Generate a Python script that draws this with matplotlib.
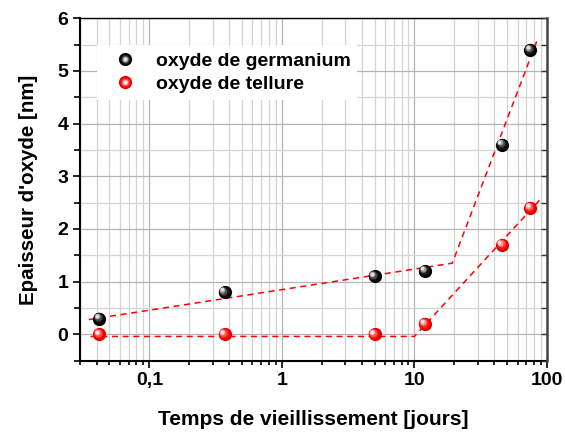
import numpy as np
import matplotlib
matplotlib.use("Agg")
from matplotlib import pyplot as plt
from matplotlib import transforms
from matplotlib.ticker import FixedLocator, FuncFormatter, MultipleLocator, NullFormatter
from matplotlib.lines import Line2D
from matplotlib.legend_handler import HandlerTuple

plt.rcParams['font.family'] = ['Liberation Sans', 'DejaVu Sans']
plt.rcParams['font.weight'] = 'bold'

#%% Données
temps = [0.042, 0.37, 5, 12, 46, 75]          # jours
ep_germanium = [0.3, 0.8, 1.1, 1.2, 3.6, 5.4]  # nm
ep_tellure = [0.0, 0.0, 0.0, 0.2, 1.7, 2.4]    # nm

# droites d'ajustement (sommets des segments)
fit_ge_x = [0.035, 19.3, 86]
fit_ge_y = [0.28, 1.35, 5.64]
fit_te_x = [0.036, 10, 92]
fit_te_y = [-0.04, -0.04, 2.6]

labels = ["oxyde de germanium", "oxyde de tellure"]

noir = ['#000000', '#050505', '#1c1c1c', '#4a4a4a', '#9a9a9a', '#e0e0e0']
rouge = ['#e00000', '#f20000', '#ff1a1a', '#ff5050', '#ff9c9c', '#ffe8e8']


#%% Billes ombrées
def spheres(ax, x, y, couleurs, taille=9.5, z=5):
    n = len(couleurs)
    handles = []
    for i, c in enumerate(couleurs):
        s = taille * (1 - 0.85 * i / n)
        d = 2.4 * i / n
        tr = transforms.offset_copy(ax.transData, fig=ax.figure, x=-d, y=d, units='points')
        ax.plot(x, y, 'o', ms=s, color=c, mew=0, transform=tr, zorder=z + i, clip_on=False)
        handles.append(Line2D([], [], ls='none', marker='o', ms=s, color=c, mew=0))
    return tuple(handles)


#%% Figure
fig = plt.figure(figsize=(5.65, 4.33), dpi=100)
ax = fig.add_axes([0.1416, 0.167, 0.8265, 0.791])

ax.set_xscale('log')
ax.set_xlim(0.03, 100)
ax.set_ylim(-0.5, 6)

ax.plot(fit_ge_x, fit_ge_y, '--', color='red', lw=1.1, dashes=(4, 3), zorder=4)
ax.plot(fit_te_x, fit_te_y, '--', color='red', lw=1.1, dashes=(4, 3), zorder=4)

h_ge = spheres(ax, temps, ep_germanium, noir)
h_te = spheres(ax, temps, ep_tellure, rouge)

# grilles
ax.yaxis.set_major_locator(MultipleLocator(1))
ax.yaxis.set_minor_locator(MultipleLocator(0.5))
ax.xaxis.set_major_locator(FixedLocator([0.1, 1, 10, 100]))
mins = [m * 10.0 ** e for e in range(-2, 2) for m in range(2, 10)]
ax.xaxis.set_minor_locator(FixedLocator(mins))
ax.xaxis.set_major_formatter(FuncFormatter(lambda v, p: ('%g' % v).replace('.', ',')))
ax.xaxis.set_minor_formatter(NullFormatter())
ax.grid(True, which='major', color='#b4b4b4', lw=0.9)
ax.grid(True, which='minor', color='#d4d4d4', lw=0.9)
ax.set_axisbelow(True)

ax.tick_params(which='both', direction='out', top=False, right=False, labelsize=14, width=1.2)
ax.tick_params(which='major', length=5)
ax.tick_params(which='minor', length=3)
ax.tick_params(axis='y', which='minor', length=4)

# graduations intérieures à droite
ax2 = ax.twinx()
ax2.set_ylim(ax.get_ylim())
ax2.yaxis.set_major_locator(MultipleLocator(0.5))
ax2.tick_params(direction='in', length=4, width=1.0, labelright=False, color='#333333')
ax2.spines['right'].set_color('#444444')
ax2.spines['right'].set_linewidth(1.8)
for s in ['left', 'bottom', 'top']:
    ax2.spines[s].set_visible(False)

for s in ['left', 'bottom']:
    ax.spines[s].set_linewidth(1.5)
ax.spines['top'].set_linewidth(1.0)
ax.spines['right'].set_visible(False)

ax.set_xlabel("Temps de vieillissement [jours]", fontsize=15, fontweight='bold', labelpad=15)
ax.set_ylabel("Epaisseur d'oxyde [nm]", fontsize=14.8, fontweight='bold', labelpad=14)

leg = ax.legend([h_ge, h_te], labels, handler_map={tuple: HandlerTuple(ndivide=1, pad=0)},
                loc='upper left', bbox_to_anchor=(0.037, 0.921), borderaxespad=0,
                frameon=True, fancybox=False, edgecolor='none', facecolor='white',
                framealpha=1, prop={'weight': 'bold', 'size': 14}, handlelength=2.2,
                handletextpad=0.45, labelspacing=0.3, borderpad=0.35)
leg.set_zorder(20)

plt.savefig("out.png", dpi=100)
